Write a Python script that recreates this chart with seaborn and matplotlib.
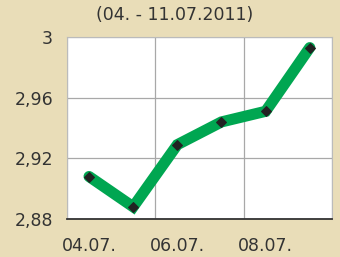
import pandas as pd
import numpy as np
import seaborn as sns
import matplotlib.pyplot as plt

days = ['04.07.', '05.07.', '06.07.', '07.07.', '08.07.', '11.07.']
values = [2.908, 2.888, 2.929, 2.944, 2.951, 2.993]
y_ticks = [2.88, 2.92, 2.96, 3.0]
y_labels = ['2,88', '2,92', '2,96', '3']

df = pd.DataFrame({'pos': np.arange(len(days)), 'value': values})

sns.set_style('white')
plt.rcParams['font.family'] = ['Liberation Sans Narrow', 'DejaVu Sans']

bg = '#e9ddb8'
fig = plt.figure(figsize=(3.4, 2.57), dpi=100, facecolor=bg)
ax = fig.add_axes([0.197, 0.148, 0.779, 0.708])
ax.set_facecolor('white')

sns.lineplot(data=df, x='pos', y='value', ax=ax, color='#00a651', linewidth=8,
             marker='D', markersize=5, markerfacecolor='#222222',
             markeredgecolor='#222222', solid_joinstyle='miter')

ax.set_xlim(-0.5, 5.5)
ax.set_ylim(2.88, 3.0)
ax.set_xticks([-0.5, 1.5, 3.5, 5.5])
ax.set_xticklabels([])
ax.set_xticks([0, 2, 4], minor=True)
ax.set_xticklabels([days[0], days[2], days[4]], minor=True)
ax.tick_params(axis='x', which='minor', length=0, pad=13, labelsize=12.5, colors='#333333')
ax.tick_params(axis='x', which='major', length=5, width=1.2, color='#333333', direction='out')
ax.set_yticks(y_ticks)
ax.set_yticklabels(y_labels)
ax.tick_params(axis='y', length=4, labelsize=12.5, pad=6, colors='#aaaaaa', labelcolor='#333333')

ax.grid(True, which='major', color='#a8a8a8', linewidth=0.9)
for s in ['top', 'right', 'left']:
    ax.spines[s].set_color('#bbbbbb')
    ax.spines[s].set_linewidth(0.8)
ax.spines['bottom'].set_color('#333333')
ax.spines['bottom'].set_linewidth(1.3)
ax.set_xlabel('')
ax.set_ylabel('')

fig.text(0.515, 0.94, '(04. - 11.07.2011)', ha='center', va='center',
         fontsize=12.5, color='#333333')

plt.savefig('out.png', dpi=100, facecolor=bg)
